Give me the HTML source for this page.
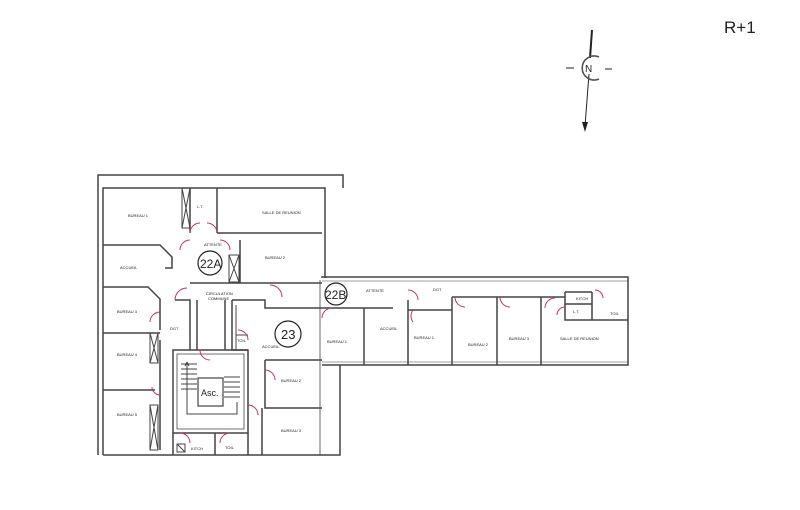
<!DOCTYPE html>
<html><head><meta charset="utf-8"><style>
html,body{margin:0;padding:0;background:#fff;}
svg{display:block}
text{font-family:"Liberation Sans",sans-serif;fill:#222}
.l{font-size:4px}
</style></head><body>
<svg width="800" height="510" viewBox="0 0 800 510" xmlns="http://www.w3.org/2000/svg">
<text x="724" y="33" style="font-size:17px">R+1</text>
<!-- compass -->
<g stroke="#222" fill="none">
<line x1="592" y1="30" x2="590" y2="58" stroke-width="2"/>
<line x1="589" y1="74" x2="585" y2="126" stroke-width="1"/>
<path d="M599 57 A12 12 0 1 0 599 79" stroke-width="1.6" stroke="#555"/>
<line x1="566" y1="68" x2="574" y2="68"/><line x1="605" y1="69" x2="612" y2="69"/>
</g>
<polygon points="582,122 588,122 585,132" fill="#222"/>
<text x="585" y="72" fill="#222" style="font-size:10px;fill:#222">N</text>
<!-- walls -->
<g stroke="#444" stroke-width="1.5" fill="none">
<path d="M98 455 V175 H343 V188"/>
<path d="M103 455 V188 H325 V278"/>
<path d="M103 455 H340 V365"/>
<path d="M322 278 V277 H628 V365 H322"/>
<path d="M322 281 H628" stroke-width="0.6"/>
<path d="M322 362 H628" stroke-width="0.6"/>
<path d="M320 280 V455" stroke-width="0.8"/>
<path d="M190 188 V233 M217 188 V233 M217 233 H322"/>
<path d="M240 240 V283 M190 283 H322"/>
<path d="M103 245 H160 L172 257 V268 H165"/>
<path d="M103 287 H148 L160 299 V330"/>
<path d="M103 333 H160 M103 390 H155 M160 340 V450"/>
<path d="M175 300 H190 V350 M197 300 V350"/>
<path d="M225 300 V350 M232 300 V350 H248"/>
<path d="M232 300 H265 V308 H322"/>
<path d="M173 350 H248 V433 H173 Z"/>
<path d="M177 354 H244 V429 H177 Z" stroke-width="0.8"/>
<path d="M236 305 V350 M236 335 H248" stroke-width="1"/>
<path d="M265 360 H322 M265 360 V408 H322 M262 408 V455"/>
<path d="M173 433 V455 M215 433 V455 M248 433 V455"/>
<path d="M322 308 H393 M364 308 V365 M408 300 V365 M408 310 H452 M452 297 V365 H452 M452 297 H497 V365 M497 297 H541 V365 M541 297 H565"/>
<path d="M565 292 V320 H628 M565 304 H592 M592 292 V320 M565 292 H592"/>
</g>
<!-- closets -->
<g stroke="#444" stroke-width="1" fill="none">
<rect x="182" y="188" width="8" height="40"/><path d="M182 188 L190 228 M190 188 L182 228"/>
<rect x="229" y="255" width="10" height="27"/><path d="M229 255 L239 282 M239 255 L229 282"/>
<rect x="150" y="333" width="8" height="30"/><path d="M150 333 L158 363 M158 333 L150 363"/>
<rect x="150" y="405" width="8" height="45"/><path d="M150 405 L158 450 M158 405 L150 450"/>
<rect x="177" y="444" width="8" height="8"/><path d="M177 444 L185 452"/>
<path d="M181 364 H197 M181 369 H197 M181 374 H197 M181 379 H197 M181 384 H197 M181 389 H197"/>
<path d="M224 377 H240 M224 382 H240 M224 387 H240 M224 392 H240 M224 397 H240"/>
<path d="M187 362 V414 H237 V402"/><path d="M187 362 l-2 4 M187 362 l2 4"/>
</g>
<rect x="198" y="378" width="25" height="28" fill="#fff" stroke="#444" stroke-width="1.2"/>
<text x="201" y="396" style="font-size:9px">Asc.</text>
<!-- doors -->
<g stroke="#c03070" stroke-width="1" fill="none">
<path d="M190 233 A10 10 0 0 1 200 223 M217 233 A10 10 0 0 0 207 223"/>
<path d="M180 250 A10 10 0 0 1 190 240 M220 240 A10 10 0 0 1 230 250"/>
<path d="M175 300 A12 12 0 0 1 187 288 M270 285 A12 12 0 0 1 282 297"/>
<path d="M160 312 A10 10 0 0 0 150 322 M160 395 A8 8 0 0 1 152 387"/>
<path d="M248 340 A10 10 0 0 0 238 330 M265 370 A10 10 0 0 1 275 380"/>
<path d="M248 405 A10 10 0 0 1 258 415 M200 350 A10 10 0 0 0 210 360"/>
<path d="M180 433 A10 10 0 0 1 190 443 M230 433 A10 10 0 0 0 220 443"/>
<path d="M322 318 A10 10 0 0 1 332 308 M408 290 A10 10 0 0 1 418 300"/>
<path d="M413 310 A10 10 0 0 0 413 322 M455 297 A10 10 0 0 0 465 307 M500 297 A10 10 0 0 0 510 307"/>
<path d="M545 308 A10 10 0 0 1 555 298 M595 290 A8 8 0 0 1 603 298 M557 315 A8 8 0 0 1 565 307"/>
</g>
<!-- numbered circles -->
<g stroke="#222" stroke-width="1.2" fill="#fff">
<circle cx="210" cy="263" r="12"/><circle cx="336" cy="294" r="11"/><circle cx="288" cy="334" r="13"/>
</g>
<text x="200" y="268" style="font-size:12px">22A</text>
<text x="325" y="299" style="font-size:12px">22B</text>
<text x="281" y="339" style="font-size:13px">23</text>
<!-- labels -->
<g class="l">
<text x="128" y="217">BUREAU 1</text><text x="197" y="208">L.T.</text>
<text x="262" y="214">SALLE DE REUNION</text><text x="204" y="246">ATTENTE</text>
<text x="265" y="259">BUREAU 2</text><text x="120" y="269">ACCUEIL</text>
<text x="206" y="295">CIRCULATION</text><text x="208" y="300">COMMUNE</text>
<text x="117" y="313">BUREAU 3</text><text x="170" y="330">DGT</text>
<text x="117" y="356">BUREAU 4</text><text x="117" y="416">BUREAU 5</text>
<text x="237" y="342">TOIL</text><text x="262" y="348">ACCUEIL</text>
<text x="281" y="382">BUREAU 2</text><text x="281" y="432">BUREAU 3</text>
<text x="191" y="450">KITCH</text><text x="225" y="449">TOIL</text>
<text x="366" y="292">ATTENTE</text><text x="433" y="291">DGT</text>
<text x="327" y="343">BUREAU 1</text><text x="380" y="330">ACCUEIL</text>
<text x="414" y="339">BUREAU 1</text><text x="468" y="346">BUREAU 2</text>
<text x="509" y="340">BUREAU 3</text><text x="560" y="340">SALLE DE REUNION</text>
<text x="576" y="300">KITCH</text><text x="573" y="313">L.T.</text><text x="610" y="315">TOIL</text>
</g>
</svg>
</body></html>
